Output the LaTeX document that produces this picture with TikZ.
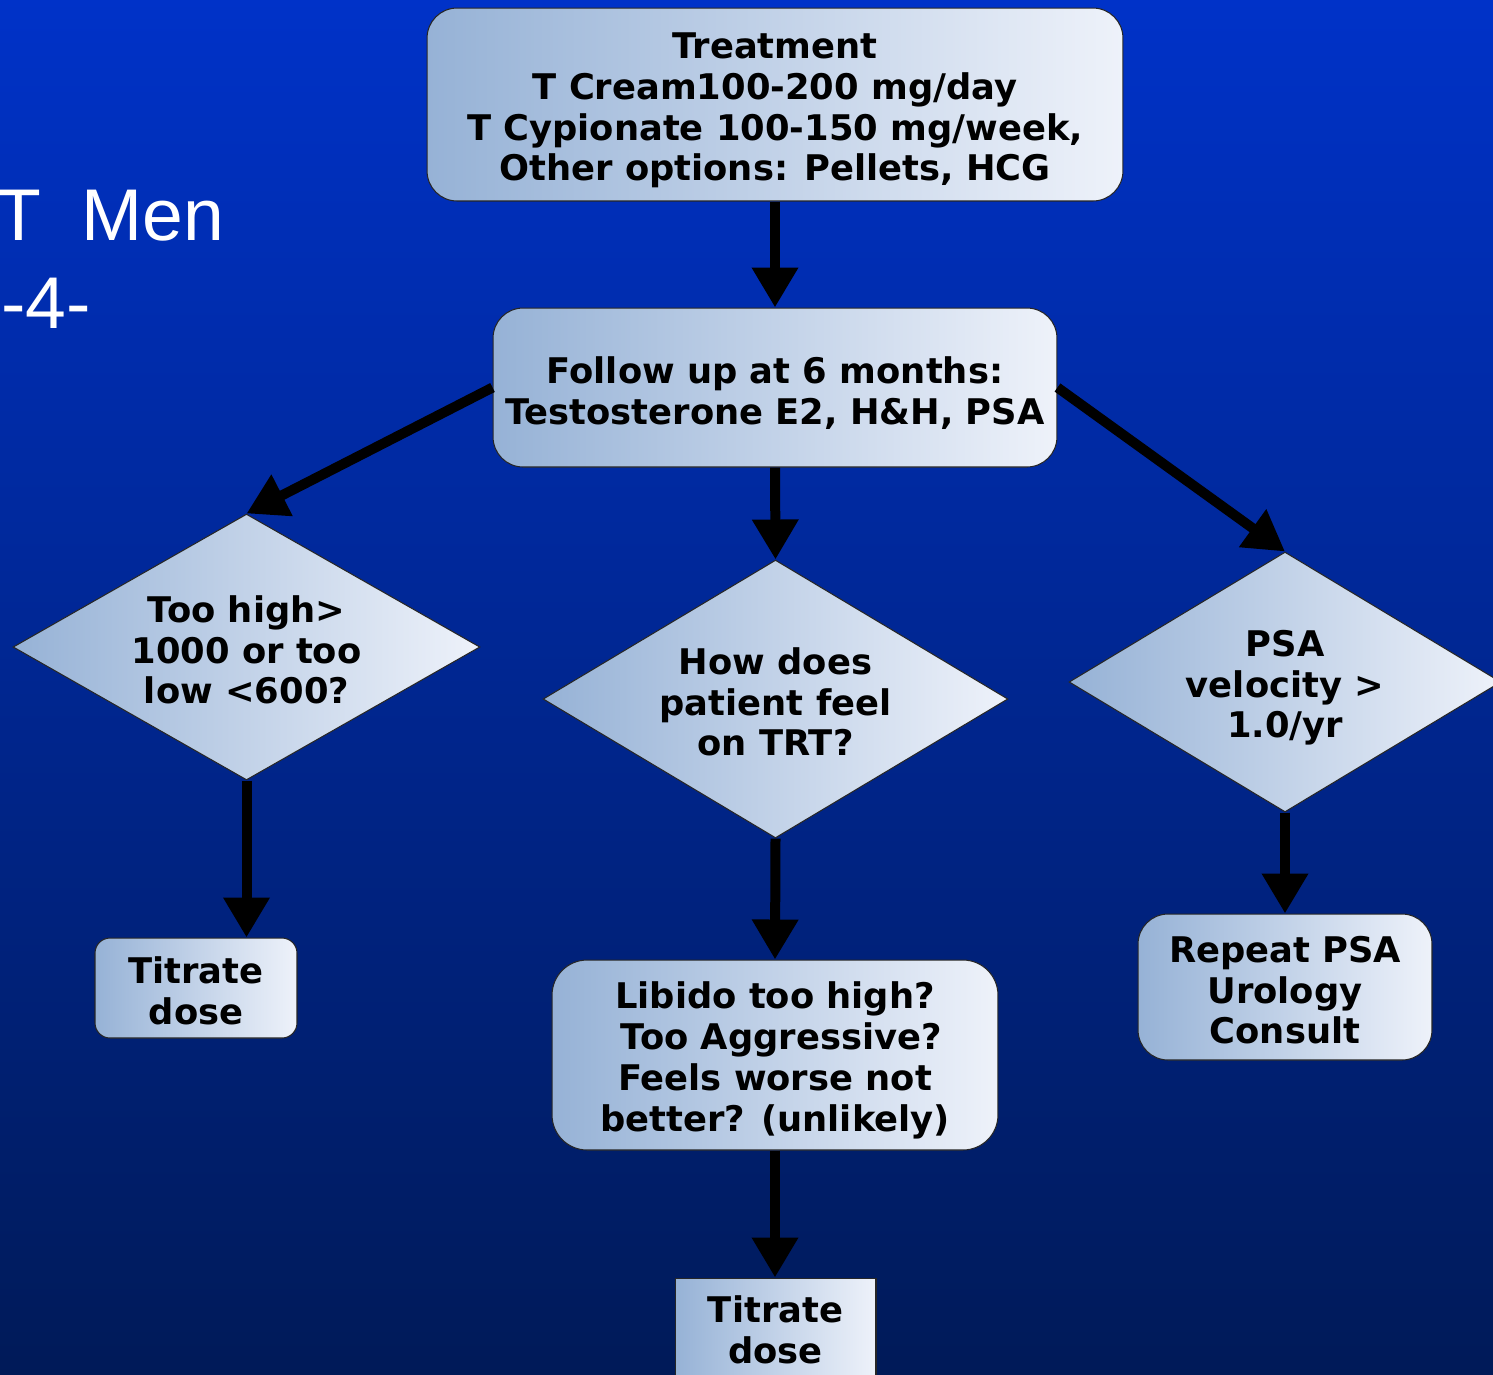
\documentclass[tikz,border=0pt]{standalone}
\usepackage{fontspec}
\setmainfont{DejaVu Sans}
\newfontfamily\titlefont{Liberation Sans}
\usetikzlibrary{shapes.geometric,arrows.meta}
\definecolor{bgtop}{RGB}{0,50,200}
\definecolor{bgbot}{RGB}{0,26,88}
\definecolor{boxL}{RGB}{150,178,214}
\definecolor{boxR}{RGB}{238,242,250}
\newcommand{\bigstrut}{\rule{0pt}{21.5pt}}
\newcommand{\smallstrut}{\rule{0pt}{18.5pt}}
\begin{document}
\begin{tikzpicture}[x=0.02cm,y=-0.02cm,
  every node/.style={font=\fontsize{20.1}{23.25}\selectfont\bfseries, align=center, text=black},
  rbox/.style={draw=black!85, line width=0.6pt, left color=boxL, right color=boxR, rounded corners=0.6cm, inner sep=0pt},
  sbox/.style={draw=black!85, line width=0.6pt, left color=boxL, right color=boxR, inner sep=0pt},
  dbox/.style={draw=black!85, line width=0.6pt, left color=boxL, right color=boxR, shape=diamond, inner sep=0pt},
  ttl/.style={anchor=base west, text=white, font=\titlefont\fontsize{41.7}{50}\selectfont},
  flow/.style={line width=0.2cm, draw=black, -{Triangle[width=0.88cm,length=0.8cm]}}
]
\useasboundingbox (0,0) rectangle (1493,1374);
\shade[top color=bgtop, bottom color=bgbot] (0,0) rectangle (1493,1374);

\node[ttl] (ttl1) at (-10,240) {T\hspace{0.556em}Men};
\node[ttl] (ttl2) at (-5,328) {-4-};

\node[rbox, minimum width=13.92cm, minimum height=3.86cm] (treat) at (775,104.5)
  {\bigstrut Treatment\\T Cream100-200 mg/day\\T Cypionate 100-150 mg/week,\\Other options: Pellets, HCG};
\node[rbox, minimum width=11.28cm, minimum height=3.18cm] (follow) at (775,387.5)
  {\bigstrut Follow up at 6 months:\\Testosterone E2, H\&H, PSA};
\node[dbox, minimum width=9.34cm, minimum height=5.32cm, aspect=1.755] (d1) at (246.5,647)
  {\smallstrut Too high>\\1000 or too\\low <600?};
\node[dbox, minimum width=9.3cm, minimum height=5.56cm, aspect=1.67] (d2) at (775.5,699)
  {\smallstrut How does\\patient feel\\on TRT?};
\node[dbox, minimum width=8.64cm, minimum height=5.2cm, aspect=1.66] (d3) at (1285,682)
  {\bigstrut PSA\\velocity >\\1.0/yr};
\node[rbox, rounded corners=0.3cm, minimum width=4.04cm, minimum height=2.0cm] (t1) at (196,988)
  {\smallstrut Titrate\\dose};
\node[rbox, rounded corners=0.7cm, minimum width=8.92cm, minimum height=3.8cm] (lib) at (775,1055)
  {\bigstrut Libido too high?\\\ Too Aggressive?\\Feels worse not\\better? (unlikely)};
\node[sbox, minimum width=4.02cm, minimum height=2.08cm] (t2) at (775.5,1330)
  {Titrate\\dose};
\node[rbox, minimum width=5.88cm, minimum height=2.92cm] (rep) at (1285,987)
  {\smallstrut Repeat PSA\\Urology\\Consult};

\draw[flow] (treat.south) -- (follow.north);
\draw[flow] (follow.west) -- (d1.north);
\draw[flow] (follow.south) -- (d2.north);
\draw[flow] (follow.east) -- (d3.north);
\draw[flow] (d1.south) -- (d1.south |- t1.north);
\draw[flow] (d2.south) -- (lib.north);
\draw[flow] (lib.south) -- (lib.south |- t2.north);
\draw[flow] (d3.south) -- (rep.north);
\end{tikzpicture}
\end{document}
